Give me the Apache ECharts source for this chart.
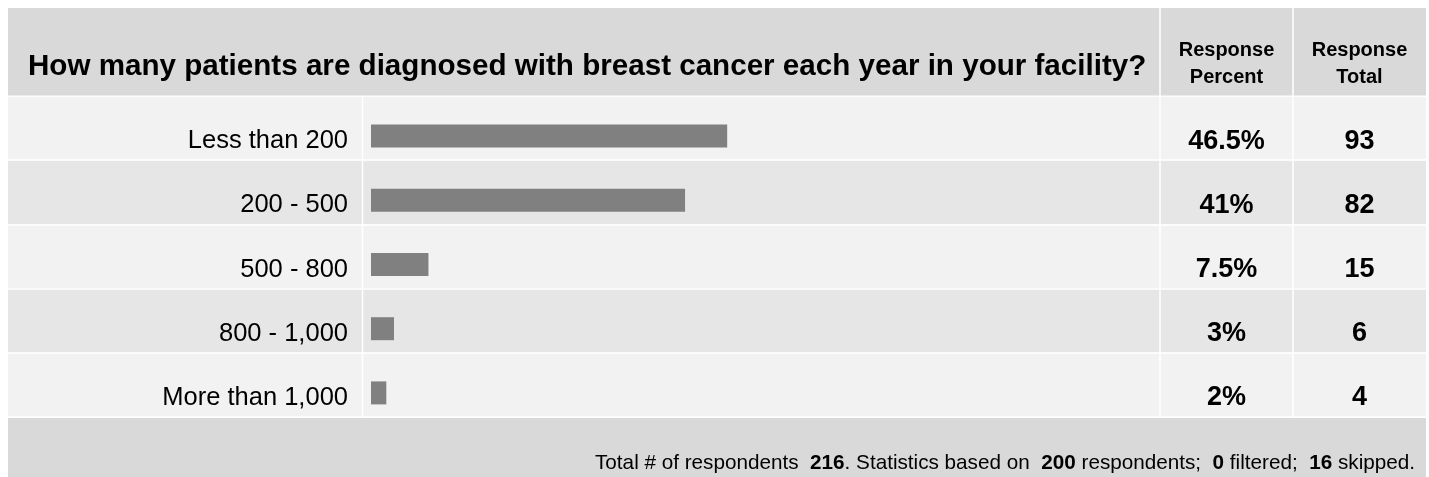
<!DOCTYPE html>
<html><head><meta charset="utf-8">
<script src="https://cdn.jsdelivr.net/npm/echarts/dist/echarts.min.js"></script>
<style>html,body{margin:0;padding:0;background:#fff}#c{width:1429px;height:477px}</style>
</head><body><div id="c"></div><script>
const question = 'How many patients are diagnosed with breast cancer each year in your facility?';
const categories = ['Less than 200', '200 - 500', '500 - 800', '800 - 1,000', 'More than 1,000'];
const responsePercent = [46.5, 41, 7.5, 3, 2];
const responseTotal = [93, 82, 15, 6, 4];
const columnHeaders = ['Response\nPercent', 'Response\nTotal'];
const totalRespondents = 216;
const basedOn = 200;
const filtered = 0;
const skipped = 16;

const FONT = '"Liberation Sans", Arial, Helvetica, sans-serif';
const chart = echarts.init(document.getElementById('c'), null, {renderer: 'canvas'});
const hiddenCat = {axisLine: {show: false}, axisTick: {show: false}};
const option = {
  animation: false,
  textStyle: {fontFamily: FONT},
  grid: [
    {left: 8, right: 3, top: 96, height: 321},
    {left: 371, width: 766, top: 104, height: 321},
    {left: 371, width: 766, top: 109, height: 321}
  ],
  xAxis: [
    {gridIndex: 0, type: 'value', min: 0, max: 1, show: false},
    {gridIndex: 1, type: 'value', min: 0, max: 100, show: false},
    {gridIndex: 2, type: 'value', min: 0, max: 100, show: false}
  ],
  yAxis: [
    Object.assign({gridIndex: 0, type: 'category', data: categories, inverse: true,
      axisLabel: {show: false},
      splitLine: {show: true, lineStyle: {color: '#ffffff', width: 1.5}},
      splitArea: {show: true, areaStyle: {color: ['#f2f2f2', '#e6e6e6']}}}, hiddenCat),
    Object.assign({gridIndex: 1, type: 'category', data: categories, inverse: true,
      axisLabel: {show: false}}, hiddenCat),
    Object.assign({gridIndex: 2, type: 'category', data: categories, inverse: true,
      axisLabel: {interval: 0, margin: 23, fontSize: 25.5, color: '#000', fontFamily: FONT}}, hiddenCat),
    Object.assign({gridIndex: 2, type: 'category', data: categories, inverse: true, position: 'right',
      axisLabel: {interval: 0, margin: 89.5, align: 'center', fontSize: 27, fontWeight: 'bold', color: '#000', fontFamily: FONT,
        formatter: (v, i) => responsePercent[i] + '%'}}, hiddenCat),
    Object.assign({gridIndex: 2, type: 'category', data: categories, inverse: true, position: 'right',
      axisLabel: {interval: 0, margin: 222.5, align: 'center', fontSize: 27, fontWeight: 'bold', color: '#000', fontFamily: FONT,
        formatter: (v, i) => String(responseTotal[i])}}, hiddenCat)
  ],
  series: [{
    type: 'bar', xAxisIndex: 1, yAxisIndex: 1, data: responsePercent,
    barWidth: 23, itemStyle: {color: '#808080'}, silent: true
  }],
  graphic: [
    {type: 'rect', shape: {x: 8, y: 8, width: 1418, height: 87.5}, style: {fill: '#d9d9d9'}, z: 1},
    {type: 'rect', shape: {x: 8, y: 418, width: 1418, height: 59}, style: {fill: '#d9d9d9'}, z: 1},
    {type: 'line', shape: {x1: 362.5, y1: 96, x2: 362.5, y2: 417}, style: {stroke: '#ffffff', lineWidth: 1.5}, z: 100},
    {type: 'line', shape: {x1: 1160, y1: 8, x2: 1160, y2: 417}, style: {stroke: '#ffffff', lineWidth: 1.5}, z: 100},
    {type: 'line', shape: {x1: 1293, y1: 8, x2: 1293, y2: 417}, style: {stroke: '#ffffff', lineWidth: 1.5}, z: 100},
    {type: 'text', x: 28, y: 66.5, z: 101, style: {text: question, fontFamily: FONT, fontSize: 29.6, fontWeight: 'bold', fill: '#000', align: 'left', verticalAlign: 'middle'}},
    {type: 'text', x: 1226.5, y: 64, z: 101, style: {text: columnHeaders[0], fontFamily: FONT, fontSize: 20, fontWeight: 'bold', lineHeight: 26.6, fill: '#000', align: 'center', verticalAlign: 'middle'}},
    {type: 'text', x: 1359.5, y: 64, z: 101, style: {text: columnHeaders[1], fontFamily: FONT, fontSize: 20, fontWeight: 'bold', lineHeight: 26.6, fill: '#000', align: 'center', verticalAlign: 'middle'}},
    {type: 'text', x: 1415, y: 463, z: 101, style: {
      text: 'Total # of respondents  {b|' + totalRespondents + '}. Statistics based on  {b|' + basedOn + '} respondents;  {b|' + filtered + '} filtered;  {b|' + skipped + '} skipped.',
      fontFamily: FONT, fontSize: 20.7, fill: '#000', align: 'right', verticalAlign: 'middle',
      rich: {b: {fontFamily: FONT, fontSize: 20.7, fontWeight: 'bold', fill: '#000'}}}}
  ]
};
chart.setOption(option);
</script></body></html>
